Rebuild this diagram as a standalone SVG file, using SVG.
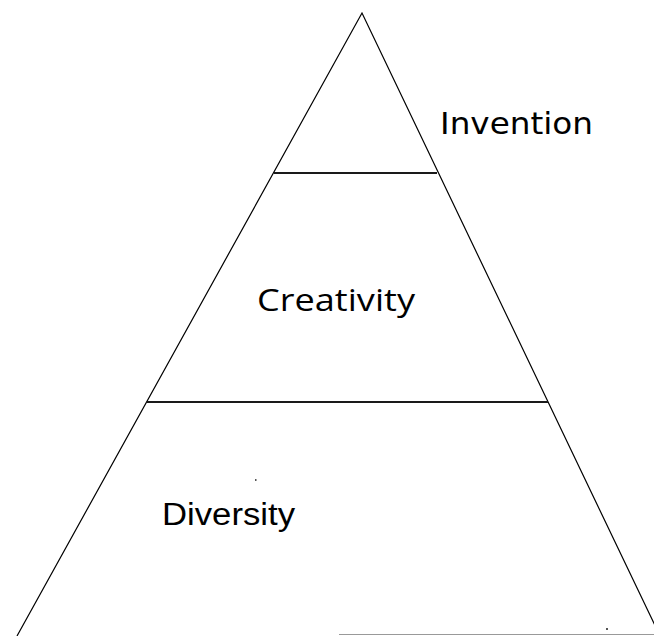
<svg xmlns="http://www.w3.org/2000/svg" width="654" height="636" viewBox="0 0 654 636">
<style>
.edge{fill:none;stroke:#000;stroke-width:1.2}
.div{stroke:#1a1a1a;stroke-width:2}
.lbl{fill:#000;font-size:31px}
</style>
<rect width="654" height="636" fill="#fff"/>
<g id="connectors">
<polyline class="edge" points="17,636 362,13 660,636"/>
<line class="div" x1="274" y1="173" x2="437" y2="173"/>
<line class="div" x1="147" y1="402" x2="548" y2="402"/>
<line x1="339" y1="634.5" x2="654" y2="634.5" stroke="#999" stroke-width="1"/>
<rect x="606" y="628" width="2" height="2" fill="#555"/>
<rect x="255" y="479" width="1.5" height="2" fill="#555"/>
</g>
<g id="invention">
<text class="lbl" x="440" y="134" font-family="DejaVu Sans, sans-serif" font-size="29.5" textLength="153" lengthAdjust="spacingAndGlyphs">Invention</text>
</g>
<g id="creativity">
<text class="lbl" x="257" y="311" font-family="Open Sans, sans-serif" textLength="158" lengthAdjust="spacingAndGlyphs">Creativity</text>
</g>
<g id="diversity">
<text class="lbl" x="162" y="525" font-family="Liberation Sans, Arial, sans-serif" textLength="133" lengthAdjust="spacingAndGlyphs">Diversity</text>
</g>
</svg>
